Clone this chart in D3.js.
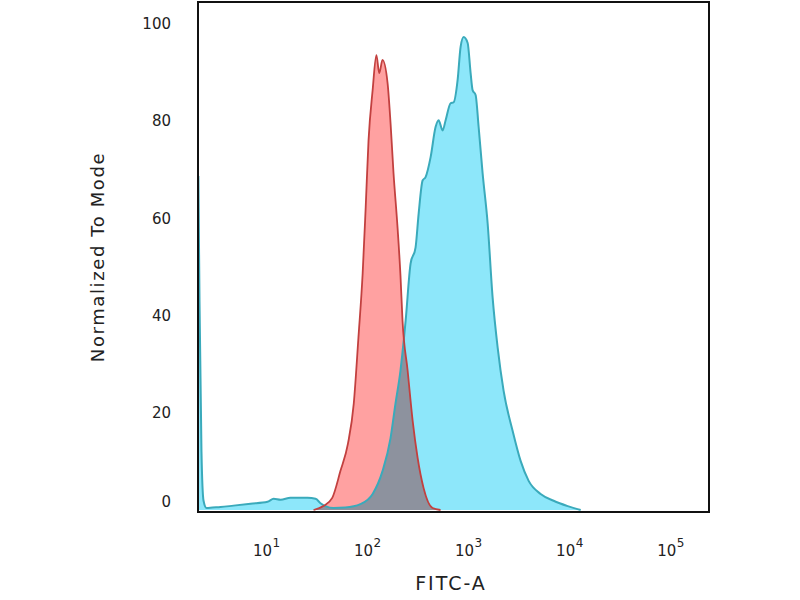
<!DOCTYPE html>
<html>
<head>
<meta charset="utf-8">
<script src="https://cdn.jsdelivr.net/npm/d3@7"></script>
<style>
  body { margin: 0; background: #fff; }
  text { font-family: "DejaVu Sans", sans-serif; fill: #222; }
</style>
</head>
<body>
<svg id="chart" width="800" height="600"></svg>
<script>

// ===========================//
// DATA
// ===========================//

// isotype control (red), FITC intensity vs % of mode
var controlX = [32, 40, 49, 59, 70, 80, 89, 98, 105, 112, 123, 134, 143, 154, 173, 185, 198, 217, 232, 243, 273, 306, 343, 393, 482, 578]
var controlY = [0, 0.8, 2.5, 8, 13.6, 21.9, 35.5, 48.7, 62.3, 76, 86.4, 93.6, 89.9, 92.6, 87.8, 79.6, 69.3, 58.1, 48.2, 39, 28.7, 18.4, 10.7, 4.5, 0.4, 0]

// stained sample (cyan)
var sampleX = [2.32, 2.38, 2.49, 2.61, 2.79, 3.2, 3.84, 5.16, 7.6, 11.2, 12.9, 15.1, 18.9, 27.9, 33.5, 37.5, 42, 50.5, 66, 93, 123, 154, 185, 207, 232, 261, 292, 327, 351, 384, 411, 461, 516, 553, 606, 649, 727, 779, 853, 913, 978, 1072, 1147, 1200, 1285, 1377, 1507, 1690, 1894, 2124, 2433, 2985, 3583, 4303, 5654, 7600, 10470, 14090]
var sampleY = [68.7, 43, 12, 1.9, 0.4, 0.5, 0.6, 0.9, 1.3, 1.7, 2.3, 2.1, 2.5, 2.5, 2.3, 1.4, 0.8, 0.4, 0.5, 1.2, 3.3, 8, 14.8, 21.9, 28.7, 39, 50.7, 54, 61, 67.8, 68.5, 72.6, 78.8, 80.2, 78.1, 80.2, 83.7, 83.9, 88.5, 95.3, 97.3, 96.1, 89.9, 86.4, 85.4, 78.8, 69.3, 59, 43.7, 33.4, 24.5, 16.3, 10.1, 6, 3.3, 1.9, 0.8, 0]

// tick labels
var yTicks = [0, 20, 40, 60, 80, 100]
var xTicks = [10, 100, 1000, 10000, 100000]
var xTitle = "FITC-A"
var yTitle = "Normalized To Mode"


// ===========================//
// SCALES
// ===========================//

var frame = {left: 198, right: 709, top: 2, bottom: 512}

var x = d3.scaleLog()
  .domain([2.3, 262144])
  .range([frame.left, frame.right])

var y = d3.scaleLinear()
  .domain([0, 100])
  .range([510, 24])

var svg = d3.select("#chart")

// clip so the curves stay inside the box
svg.append("clipPath")
  .attr("id", "plotClip")
  .append("rect")
    .attr("x", frame.left)
    .attr("y", frame.top)
    .attr("width", frame.right - frame.left)
    .attr("height", frame.bottom - frame.top)

var plot = svg.append("g").attr("clip-path", "url(#plotClip)")


// ===========================//
// HISTOGRAMS
// ===========================//

function toPoints(xs, ys) {
  return xs.map(function(d, i){ return [d, ys[i]] })
}

var area = d3.area()
  .x(function(d){ return x(d[0]) })
  .y0(y(0))
  .y1(function(d){ return y(d[1]) })
  .curve(d3.curveMonotoneX)

var line = d3.line()
  .x(function(d){ return x(d[0]) })
  .y(function(d){ return y(d[1]) })
  .curve(d3.curveMonotoneX)

var sample = toPoints(sampleX, sampleY)
var control = toPoints(controlX, controlY)

plot.append("path")
  .datum(sample)
  .attr("d", area)
  .attr("fill", "#8de7fa")

// multiply so the overlap turns slate grey
plot.append("path")
  .datum(control)
  .attr("d", area)
  .attr("fill", "#ff9090")
  .attr("fill-opacity", 0.85)
  .style("mix-blend-mode", "multiply")

plot.append("path")
  .datum(sample)
  .attr("d", line)
  .attr("fill", "none")
  .attr("stroke", "#3aaabb")
  .attr("stroke-width", 2)

plot.append("path")
  .datum(control)
  .attr("d", line)
  .attr("fill", "none")
  .attr("stroke", "#c2403f")
  .attr("stroke-width", 1.8)


// ===========================//
// FRAME + AXES
// ===========================//

svg.append("rect")
  .attr("x", frame.left)
  .attr("y", frame.top)
  .attr("width", frame.right - frame.left)
  .attr("height", frame.bottom - frame.top)
  .attr("fill", "none")
  .attr("stroke", "#111")
  .attr("stroke-width", 2)

// y tick labels (the 0 label sits a little above the baseline, like the original)
svg.selectAll(".ytick")
  .data(yTicks)
  .enter()
  .append("text")
    .attr("class", "ytick")
    .attr("x", 171)
    .attr("y", function(d){ return Math.min(y(d), 502) })
    .attr("dy", "0.35em")
    .attr("text-anchor", "end")
    .style("font-size", "15px")
    .text(function(d){ return d })

// x tick labels as 10 with a raised exponent
var xt = svg.selectAll(".xtick")
  .data(xTicks)
  .enter()
  .append("g")
    .attr("class", "xtick")
    .attr("transform", function(d){ return "translate(" + x(d) + ",556)" })

xt.append("text")
  .attr("text-anchor", "middle")
  .style("font-size", "15px")
  .text("10")

xt.append("text")
  .attr("x", 10)
  .attr("y", -9)
  .style("font-size", "12px")
  .text(function(d){ return Math.round(Math.log10(d)) })

// axis titles
svg.append("text")
  .attr("x", 451)
  .attr("y", 590)
  .attr("text-anchor", "middle")
  .style("font-size", "19px")
  .style("letter-spacing", "2px")
  .text(xTitle)

svg.append("text")
  .attr("transform", "translate(104,257) rotate(-90)")
  .attr("text-anchor", "middle")
  .style("font-size", "18px")
  .style("letter-spacing", "1.6px")
  .text(yTitle)

</script>
</body>
</html>
